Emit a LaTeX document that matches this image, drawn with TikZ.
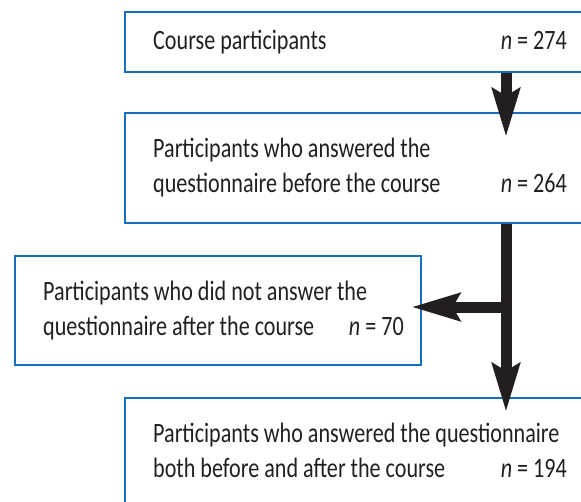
\documentclass[tikz,border=0pt]{standalone}
\usepackage{fontspec}
\setmainfont{Carlito}[FakeStretch=0.79]
\usetikzlibrary{arrows.meta}
\definecolor{boxblue}{RGB}{22,110,192}
\definecolor{ink}{RGB}{35,31,32}
\tikzset{
  box/.style={draw=boxblue, line width=2.4pt, rectangle, anchor=north west, inner sep=0pt},
  lbl/.style={inner sep=0pt, text=ink, font=\fontsize{28}{32}\selectfont, anchor=base west},
  num/.style={inner sep=0pt, text=ink, font=\fontsize{28}{32}\selectfont, anchor=base east},
  arr/.style={draw=ink, line width=11pt, -{Stealth[length=48pt, width=27pt, inset=7pt]}},
}
\begin{document}
\begin{tikzpicture}[x=1pt, y=-1pt]
\useasboundingbox (0,0) rectangle (581,501);
\clip (0,0) rectangle (581,501);
% boxes
\node[box, minimum width=496pt, minimum height=60pt] (b1) at (124,11) {};
\node[box, minimum width=496pt, minimum height=110pt] (b2) at (124,112) {};
\node[box, minimum width=406pt, minimum height=109pt] (b3) at (14,255) {};
\node[box, minimum width=496pt, minimum height=143pt] (b4) at (124,397) {};
% texts
\node[lbl] (t1) at (153,49) {Course participants};
\node[num] (n1) at (567,49) {\textit{n} = 274};
\node[lbl] (t2a) at (153,157) {Participants who answered the};
\node[lbl] (t2b) at (153,192) {questionnaire before the course};
\node[num] (n2) at (567,192) {\textit{n} = 264};
\node[lbl] (t3a) at (43,300) {Participants who did not answer the};
\node[lbl] (t3b) at (43,335) {questionnaire after the course};
\node[num] (n3) at (404,335) {\textit{n} = 70};
\node[lbl] (t4a) at (153,442) {Participants who answered the questionnaire};
\node[lbl] (t4b) at (153,477) {both before and after the course};
\node[num] (n4) at (567,477) {\textit{n} = 194};
% connectors
\coordinate (ax) at (506,0);
\coordinate (j) at (506,307);
\draw[arr, shorten >=-25pt] (b1.south -| ax) -- (b2.north -| ax);
\draw[arr, shorten >=-15pt] (b2.south -| ax) -- (b4.north -| ax);
\draw[arr, shorten >=-11pt] (j) -- (b3.east |- j);
\end{tikzpicture}
\end{document}
